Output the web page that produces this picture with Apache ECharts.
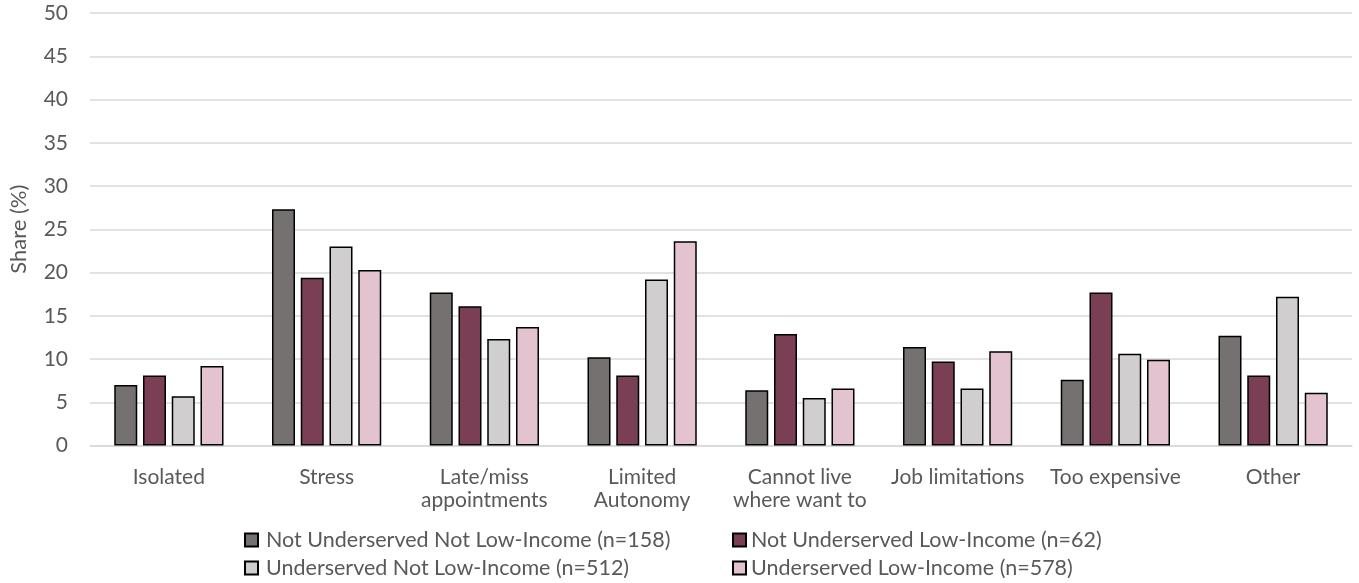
<!DOCTYPE html>
<html>
<head>
<meta charset="utf-8">
<script src="https://cdn.jsdelivr.net/npm/echarts@6/dist/echarts.min.js"></script>
<style>
  html, body { margin: 0; padding: 0; background: #ffffff; }
  #chart { width: 1359px; height: 583px; }
</style>
</head>
<body>
<div id="chart"></div>
<script>
// Reasons / consequences, grouped by respondent type
const categories = [
  'Isolated', 'Stress', 'Late/miss\nappointments', 'Limited\nAutonomy',
  'Cannot live\nwhere want to', 'Job limitations', 'Too expensive', 'Other'
];
const seriesNames = [
  'Not Underserved Not Low-Income (n=158)',
  'Not Underserved Low-Income (n=62)',
  'Underserved Not Low-Income (n=512)',
  'Underserved Low-Income (n=578)'
];
const notUnderservedNotLowIncome = [7.0, 27.3, 17.7, 10.2, 6.4, 11.4, 7.6, 12.7];
const notUnderservedLowIncome    = [8.1, 19.4, 16.1, 8.1, 12.9, 9.7, 17.7, 8.1];
const underservedNotLowIncome    = [5.7, 23.0, 12.3, 19.2, 5.5, 6.6, 10.6, 17.2];
const underservedLowIncome       = [9.2, 20.3, 13.7, 23.6, 6.6, 10.9, 9.9, 6.1];
const seriesValues = [
  notUnderservedNotLowIncome, notUnderservedLowIncome,
  underservedNotLowIncome, underservedLowIncome
];
const colors = ['#767171', '#7B3F55', '#D0CECE', '#E2C3CF'];

const FONT = 'Lato';
const TEXT = '#595959';

// legend laid out as a 2 x 2 block: [left, top] for each series entry
const legendSlots = [[239, 524], [727, 524], [239, 552], [727, 552]];

function legendEntry(i) {
  return {
    data: [seriesNames[i]],
    orient: 'horizontal',
    left: legendSlots[i][0], top: legendSlots[i][1],
    itemWidth: 13, itemHeight: 13, icon: 'rect',
    itemStyle: { borderColor: '#000000', borderWidth: 2 },
    textStyle: { color: TEXT, fontSize: 21.5, lineHeight: 20, fontFamily: FONT,
                 padding: [0, 0, 0, i % 2 === 0 ? 3 : 0] }
  };
}

const chart = echarts.init(document.getElementById('chart'));
chart.setOption({
  animation: false,
  textStyle: { fontFamily: FONT },
  grid: { left: 90, right: 7, top: 13, bottom: 137.5, containLabel: false, outerBoundsMode: 'none' },
  legend: [0, 1, 2, 3].map(legendEntry),
  xAxis: {
    type: 'category',
    data: categories,
    axisLine: { show: true, lineStyle: { color: '#D9D9D9', width: 1.5 } },
    axisTick: { show: false },
    axisLabel: { color: TEXT, fontSize: 21, margin: 20, lineHeight: 23, interval: 0 }
  },
  yAxis: {
    type: 'value',
    min: 0, max: 50, interval: 5,
    name: 'Share (%)',
    nameLocation: 'middle',
    nameGap: 60,
    nameTextStyle: { color: TEXT, fontSize: 22 },
    axisLine: { show: false },
    axisTick: { show: false },
    axisLabel: { color: TEXT, fontSize: 21, margin: 22 },
    splitLine: { lineStyle: { color: '#D9D9D9', width: 1.5 } }
  },
  series: seriesValues.map((vals, i) => ({
    name: seriesNames[i],
    type: 'bar',
    data: vals,
    barWidth: 23,
    barGap: '25%',
    itemStyle: { color: colors[i], borderColor: '#000000', borderWidth: 1.5 }
  }))
});
</script>
</body>
</html>
